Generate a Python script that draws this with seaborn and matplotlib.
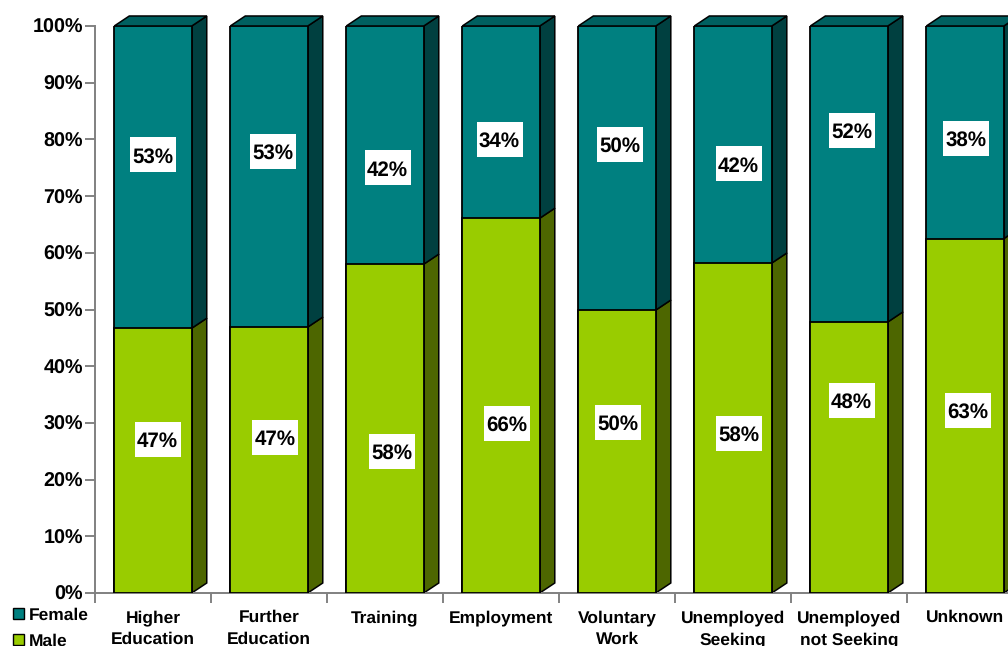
import matplotlib
matplotlib.use("Agg")
import matplotlib.pyplot as plt
from matplotlib.patches import Patch, Rectangle
from matplotlib.ticker import PercentFormatter
import pandas as pd
import seaborn as sns

categories = ["Higher\nEducation", "Further\nEducation", "Training", "Employment",
              "Voluntary\nWork", "Unemployed\nSeeking", "Unemployed\nnot Seeking", "Unknown"]
male = [46.7, 46.9, 58.0, 66.1, 49.9, 58.2, 47.8, 62.5]
female = [53.3, 53.1, 42.0, 33.9, 50.1, 41.8, 52.2, 37.5]

# labels are hand placed in the original, not centred on the segments
male_label_y = [27.1, 27.4, 25.0, 29.9, 30.1, 28.1, 34.0, 32.2]
female_label_y = [77.3, 77.9, 75.0, 80.0, 79.1, 75.7, 81.6, 80.2]
male_label_dx = [4.5, 6, 7, 5.5, 0.5, 5.5, 2.5, 2.5]  # px off the bar centre
female_label_dx = [0, 3.5, 2.5, -1.5, 2.5, 5.5, 2.5, 0.5]

TEAL = "#008080"
GREEN = "#99CC00"
TEAL_SIDE = "#004040"
TEAL_TOP = "#006060"
GREEN_SIDE = "#4D6600"
BAR_W = 0.668
PX_X = 116  # px per category
PX_Y = 5.67  # px per percent
DX = 15 / PX_X  # depth of the fake 3d, in data units
DY = 10 / PX_Y

sns.set_style("white")
plt.rcParams["font.family"] = ["Liberation Sans", "DejaVu Sans"]
plt.rcParams["font.weight"] = "bold"
plt.rcParams["text.color"] = "black"
plt.rcParams["xtick.labelcolor"] = "black"
plt.rcParams["ytick.labelcolor"] = "black"
plt.rcParams["text.hinting"] = "none"

df = pd.DataFrame({"category": categories, "male": male, "female": female})
df["total"] = df["male"] + df["female"]

fig = plt.figure(figsize=(10.08, 6.46), dpi=100)
ax = fig.add_axes([95 / 1008, 1 - 593 / 646, (1008 - 95) / 1008, (593 - 26) / 646])

sns.barplot(data=df, x="category", y="total", color=TEAL, saturation=1, width=BAR_W,
            edgecolor="black", linewidth=1.3, ax=ax, zorder=3)
sns.barplot(data=df, x="category", y="male", color=GREEN, saturation=1, width=BAR_W,
            edgecolor="black", linewidth=1.3, ax=ax, zorder=3)

for i, (m, t) in enumerate(zip(df["male"], df["total"])):
    r = i + BAR_W / 2
    l = i - BAR_W / 2
    ax.fill([r, r + DX, r + DX, r], [0, DY, m + DY, m], color=GREEN_SIDE, ec="black", lw=1.1, zorder=2, clip_on=False)
    ax.fill([r, r + DX, r + DX, r], [m, m + DY, t + DY, t], color=TEAL_SIDE, ec="black", lw=1.1, zorder=2, clip_on=False)
    ax.fill([l, l + DX, r + DX, r], [t, t + DY, t + DY, t], color=TEAL_TOP, ec="black", lw=1.1, zorder=2, clip_on=False)


def add_label(x, y, value):
    w = 46 / PX_X
    h = 35 / PX_Y
    ax.add_patch(Rectangle((x - w / 2, y - h / 2), w, h, facecolor="white", edgecolor="none", zorder=4))
    ax.text(x, y, f"{int(value + 0.5)}%", ha="center", va="center_baseline", fontsize=14.8, zorder=5)


for i in range(len(categories)):
    add_label(i + male_label_dx[i] / PX_X, male_label_y[i], male[i])
    add_label(i + female_label_dx[i] / PX_X, female_label_y[i], female[i])

ax.set_ylim(0, 100)
ax.set_xlabel("")
ax.set_ylabel("")
ax.set_yticks(range(0, 101, 10))
ax.yaxis.set_major_formatter(PercentFormatter(100, decimals=0))
ax.tick_params(axis="y", length=7.2, width=1.1, color="#606060", labelsize=14.2, pad=1.5, left=True)
ax.set_xticks(range(len(categories)))
ax.set_xticklabels(categories, fontsize=12.5, linespacing=1.5, va="top")
ax.tick_params(axis="x", which="major", length=0, pad=12)
ax.set_xticks([i - 0.5 for i in range(len(categories) + 1)], minor=True)
ax.tick_params(axis="x", which="minor", length=7.2, width=1.1, color="#606060", bottom=True)
ax.set_xlim(-0.5, 7.37)
sns.despine(ax=ax, top=True, right=True)
for s in ["left", "bottom"]:
    ax.spines[s].set_color("#808080")
    ax.spines[s].set_linewidth(1.4)

handles = [Patch(facecolor=TEAL, edgecolor="black", label="Female"),
           Patch(facecolor=GREEN, edgecolor="black", label="Male")]
fig.legend(handles=handles, loc="upper left", bbox_to_anchor=(8 / 1008, 1 - 602 / 646), frameon=False,
           fontsize=12.5, handlelength=0.65, handleheight=0.65, handletextpad=0.25, labelspacing=0.58,
           borderpad=0.3, borderaxespad=0)

fig.savefig("out.png", dpi=100)
